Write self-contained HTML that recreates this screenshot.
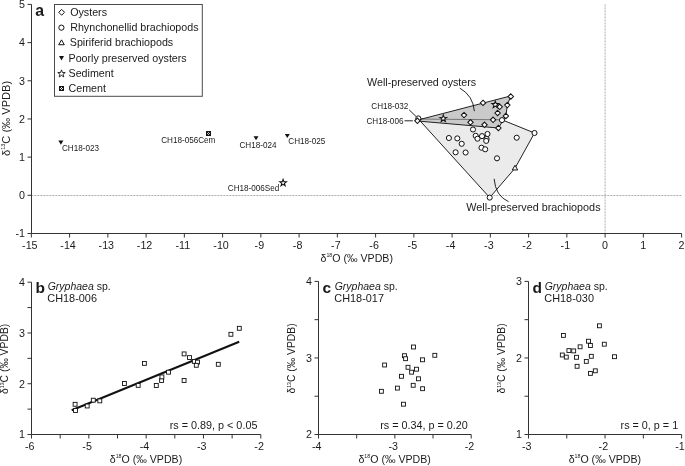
<!DOCTYPE html>
<html><head><meta charset="utf-8"><style>
html,body{margin:0;padding:0;background:#fff;}
svg{display:block;will-change:transform;}
</style></head><body>
<svg width="685" height="466" viewBox="0 0 685 466" font-family="'Liberation Sans', sans-serif">
<rect width="685" height="466" fill="#fff"/>
<line x1="31.35" y1="195.5" x2="681.6" y2="195.5" stroke="#999" stroke-width="0.8" stroke-dasharray="2,1"/>
<line x1="605.1" y1="4.42" x2="605.1" y2="233.5" stroke="#999" stroke-width="0.8" stroke-dasharray="2,1"/>
<path d="M418.4,119L502,119.8L534.5,133L515,168.2L489.7,197.6Z" fill="#ebebeb" stroke="#222" stroke-width="1"/>
<path d="M417.2,120.2L510.8,95.9L507.3,105.1L505.9,116L498.4,128L417.4,121Z" fill="#cacaca" stroke="none"/>
<path d="M418.4,119L502,119.8" stroke="#6a6a6a" stroke-width="0.9"/>
<path d="M417.2,120.2L510.8,95.9L507.3,105.1L505.9,116L498.4,128L417.4,121Z" fill="none" stroke="#222" stroke-width="1"/>
<line x1="409.1" y1="109.8" x2="416.1" y2="116.5" stroke="#111" stroke-width="0.9" />
<line x1="404.5" y1="120.8" x2="412.9" y2="120.8" stroke="#111" stroke-width="0.9" />
<path d="M459.8,88.1Q473,95.5 474.4,111.2" fill="none" stroke="#111" stroke-width="0.9"/>
<path d="M494.1,178.8Q495.5,196 508.6,201.7" fill="none" stroke="#111" stroke-width="0.9"/>
<line x1="31.5" y1="4.42" x2="31.5" y2="233.5" stroke="#333" stroke-width="1" />
<line x1="31.5" y1="233.5" x2="681.6" y2="233.5" stroke="#333" stroke-width="1" />
<line x1="27.5" y1="233.5" x2="31.5" y2="233.5" stroke="#333" stroke-width="1" />
<text x="25" y="237.3" font-size="10.7" text-anchor="end" fill="#1a1a1a" >-1</text>
<line x1="27.5" y1="195.32" x2="31.5" y2="195.32" stroke="#333" stroke-width="1" />
<text x="25" y="199.12" font-size="10.7" text-anchor="end" fill="#1a1a1a" >0</text>
<line x1="27.5" y1="157.14" x2="31.5" y2="157.14" stroke="#333" stroke-width="1" />
<text x="25" y="160.94" font-size="10.7" text-anchor="end" fill="#1a1a1a" >1</text>
<line x1="27.5" y1="118.96" x2="31.5" y2="118.96" stroke="#333" stroke-width="1" />
<text x="25" y="122.76" font-size="10.7" text-anchor="end" fill="#1a1a1a" >2</text>
<line x1="27.5" y1="80.78" x2="31.5" y2="80.78" stroke="#333" stroke-width="1" />
<text x="25" y="84.58" font-size="10.7" text-anchor="end" fill="#1a1a1a" >3</text>
<line x1="27.5" y1="42.6" x2="31.5" y2="42.6" stroke="#333" stroke-width="1" />
<text x="25" y="46.4" font-size="10.7" text-anchor="end" fill="#1a1a1a" >4</text>
<line x1="27.5" y1="4.42" x2="31.5" y2="4.42" stroke="#333" stroke-width="1" />
<text x="25" y="7.52" font-size="10.7" text-anchor="end" fill="#1a1a1a" >5</text>
<line x1="31.35" y1="233.5" x2="31.35" y2="237.5" stroke="#333" stroke-width="1" />
<text x="29.85" y="248.6" font-size="10.7" text-anchor="middle" fill="#1a1a1a" >-15</text>
<line x1="69.6" y1="233.5" x2="69.6" y2="237.5" stroke="#333" stroke-width="1" />
<text x="68.1" y="248.6" font-size="10.7" text-anchor="middle" fill="#1a1a1a" >-14</text>
<line x1="107.85" y1="233.5" x2="107.85" y2="237.5" stroke="#333" stroke-width="1" />
<text x="106.35" y="248.6" font-size="10.7" text-anchor="middle" fill="#1a1a1a" >-13</text>
<line x1="146.1" y1="233.5" x2="146.1" y2="237.5" stroke="#333" stroke-width="1" />
<text x="144.6" y="248.6" font-size="10.7" text-anchor="middle" fill="#1a1a1a" >-12</text>
<line x1="184.35" y1="233.5" x2="184.35" y2="237.5" stroke="#333" stroke-width="1" />
<text x="182.85" y="248.6" font-size="10.7" text-anchor="middle" fill="#1a1a1a" >-11</text>
<line x1="222.6" y1="233.5" x2="222.6" y2="237.5" stroke="#333" stroke-width="1" />
<text x="221.1" y="248.6" font-size="10.7" text-anchor="middle" fill="#1a1a1a" >-10</text>
<line x1="260.85" y1="233.5" x2="260.85" y2="237.5" stroke="#333" stroke-width="1" />
<text x="259.35" y="248.6" font-size="10.7" text-anchor="middle" fill="#1a1a1a" >-9</text>
<line x1="299.1" y1="233.5" x2="299.1" y2="237.5" stroke="#333" stroke-width="1" />
<text x="297.6" y="248.6" font-size="10.7" text-anchor="middle" fill="#1a1a1a" >-8</text>
<line x1="337.35" y1="233.5" x2="337.35" y2="237.5" stroke="#333" stroke-width="1" />
<text x="335.85" y="248.6" font-size="10.7" text-anchor="middle" fill="#1a1a1a" >-7</text>
<line x1="375.6" y1="233.5" x2="375.6" y2="237.5" stroke="#333" stroke-width="1" />
<text x="374.1" y="248.6" font-size="10.7" text-anchor="middle" fill="#1a1a1a" >-6</text>
<line x1="413.85" y1="233.5" x2="413.85" y2="237.5" stroke="#333" stroke-width="1" />
<text x="412.35" y="248.6" font-size="10.7" text-anchor="middle" fill="#1a1a1a" >-5</text>
<line x1="452.1" y1="233.5" x2="452.1" y2="237.5" stroke="#333" stroke-width="1" />
<text x="450.6" y="248.6" font-size="10.7" text-anchor="middle" fill="#1a1a1a" >-4</text>
<line x1="490.35" y1="233.5" x2="490.35" y2="237.5" stroke="#333" stroke-width="1" />
<text x="488.85" y="248.6" font-size="10.7" text-anchor="middle" fill="#1a1a1a" >-3</text>
<line x1="528.6" y1="233.5" x2="528.6" y2="237.5" stroke="#333" stroke-width="1" />
<text x="527.1" y="248.6" font-size="10.7" text-anchor="middle" fill="#1a1a1a" >-2</text>
<line x1="566.85" y1="233.5" x2="566.85" y2="237.5" stroke="#333" stroke-width="1" />
<text x="565.35" y="248.6" font-size="10.7" text-anchor="middle" fill="#1a1a1a" >-1</text>
<line x1="605.1" y1="233.5" x2="605.1" y2="237.5" stroke="#333" stroke-width="1" />
<text x="605.1" y="248.6" font-size="10.7" text-anchor="middle" fill="#1a1a1a" >0</text>
<line x1="643.35" y1="233.5" x2="643.35" y2="237.5" stroke="#333" stroke-width="1" />
<text x="643.35" y="248.6" font-size="10.7" text-anchor="middle" fill="#1a1a1a" >1</text>
<line x1="681.6" y1="233.5" x2="681.6" y2="237.5" stroke="#333" stroke-width="1" />
<text x="681.6" y="248.6" font-size="10.7" text-anchor="middle" fill="#1a1a1a" >2</text>
<text x="356.7" y="262.1" font-size="10.6" text-anchor="middle" fill="#1a1a1a">δ<tspan font-size="5.3" dy="-5">18</tspan><tspan dy="5">O (‰ VPDB)</tspan></text>
<text x="10.2" y="118.4" font-size="11.1" text-anchor="middle" fill="#1a1a1a" transform="rotate(-90 10.2 118.4)">δ<tspan font-size="5.5" dy="-5.2">13</tspan><tspan dy="5.2">C (‰ VPDB)</tspan></text>
<text x="35.2" y="15.7" font-size="15.8" text-anchor="start" fill="#1a1a1a" font-weight="bold">a</text>
<rect x="54.5" y="4.5" width="147.8" height="91.8" fill="#fff" stroke="#4a4a4a" stroke-width="1"/>
<path d="M61.65,9.4L64.55,12.3L61.65,15.2L58.75,12.3Z" fill="#fff" stroke="#111" stroke-width="1"/>
<circle cx="61.4" cy="27.65" r="2.6" fill="#fff" stroke="#111" stroke-width="1"/>
<path d="M61.5,39.87L64.3,44.72L58.7,44.72Z" fill="#fff" stroke="#111" stroke-width="1"/>
<path d="M59,56L64,56L61.5,60.6Z" fill="#111"/>
<path d="M61.5,69.9L62.44,72.51L65.21,72.59L63.02,74.29L63.79,76.96L61.5,75.4L59.21,76.96L59.98,74.29L57.79,72.59L60.56,72.51Z" fill="#fff" stroke="#111" stroke-width="0.9"/>
<rect x="59" y="86" width="5" height="5" fill="#151515" shape-rendering="crispEdges"/>
<rect x="61" y="87" width="1" height="1" fill="#eee" shape-rendering="crispEdges"/>
<rect x="60" y="88" width="1" height="1" fill="#eee" shape-rendering="crispEdges"/>
<rect x="62" y="88" width="1" height="1" fill="#eee" shape-rendering="crispEdges"/>
<rect x="61" y="89" width="1" height="1" fill="#eee" shape-rendering="crispEdges"/>
<text x="70.2" y="15.8" font-size="10.7" text-anchor="start" fill="#1a1a1a" >Oysters</text>
<text x="70.2" y="31.13" font-size="10.7" text-anchor="start" fill="#1a1a1a" >Rhynchonellid brachiopods</text>
<text x="69.8" y="46.46" font-size="10.7" text-anchor="start" fill="#1a1a1a" >Spiriferid brachiopods</text>
<text x="68.5" y="61.79" font-size="10.7" text-anchor="start" fill="#1a1a1a" >Poorly preserved oysters</text>
<text x="68.5" y="77.12" font-size="10.7" text-anchor="start" fill="#1a1a1a" >Sediment</text>
<text x="68.5" y="92.45" font-size="10.7" text-anchor="start" fill="#1a1a1a" >Cement</text>
<text x="62" y="150.9" font-size="8.15" text-anchor="start" fill="#1a1a1a" >CH18-023</text>
<text x="161.2" y="143" font-size="8.15" text-anchor="start" fill="#1a1a1a" >CH18-056Cem</text>
<text x="239.5" y="148.1" font-size="8.15" text-anchor="start" fill="#1a1a1a" >CH18-024</text>
<text x="288.3" y="144" font-size="8.15" text-anchor="start" fill="#1a1a1a" >CH18-025</text>
<text x="227.8" y="191" font-size="8.15" text-anchor="start" fill="#1a1a1a" >CH18-006Sed</text>
<text x="371.3" y="108.9" font-size="8.15" text-anchor="start" fill="#1a1a1a" >CH18-032</text>
<text x="366.4" y="123.5" font-size="8.15" text-anchor="start" fill="#1a1a1a" >CH18-006</text>
<text x="367.1" y="85.6" font-size="10.7" text-anchor="start" fill="#1a1a1a" >Well-preserved oysters</text>
<text x="466.3" y="211.2" font-size="10.8" text-anchor="start" fill="#1a1a1a" >Well-preserved brachiopods</text>
<path d="M58.4,140.5L63.4,140.5L60.9,144.7Z" fill="#111"/>
<path d="M253.5,136.2L258.5,136.2L256,140.2Z" fill="#111"/>
<path d="M284.8,134L289.8,134L287.3,138Z" fill="#111"/>
<rect x="206" y="131" width="5" height="5" fill="#151515" shape-rendering="crispEdges"/>
<rect x="208" y="132" width="1" height="1" fill="#bbb" shape-rendering="crispEdges"/>
<rect x="207" y="133" width="1" height="1" fill="#bbb" shape-rendering="crispEdges"/>
<rect x="209" y="133" width="1" height="1" fill="#bbb" shape-rendering="crispEdges"/>
<rect x="208" y="134" width="1" height="1" fill="#bbb" shape-rendering="crispEdges"/>
<path d="M283.1,179.4L283.92,181.77L286.43,181.82L284.43,183.33L285.16,185.73L283.1,184.3L281.04,185.73L281.77,183.33L279.77,181.82L282.28,181.77Z" fill="#fff" stroke="#111" stroke-width="1.05"/>
<circle cx="418.3" cy="118.4" r="2.55" fill="#fff" stroke="#111" stroke-width="1.0"/>
<circle cx="502" cy="120.1" r="2.55" fill="#fff" stroke="#111" stroke-width="1.0"/>
<circle cx="534.5" cy="133" r="2.55" fill="#fff" stroke="#111" stroke-width="1.0"/>
<circle cx="489.7" cy="197.6" r="2.55" fill="#fff" stroke="#111" stroke-width="1.0"/>
<circle cx="473" cy="129.5" r="2.55" fill="#fff" stroke="#111" stroke-width="1.0"/>
<circle cx="448.9" cy="138" r="2.55" fill="#fff" stroke="#111" stroke-width="1.0"/>
<circle cx="457.3" cy="138.4" r="2.55" fill="#fff" stroke="#111" stroke-width="1.0"/>
<circle cx="461.7" cy="143.8" r="2.55" fill="#fff" stroke="#111" stroke-width="1.0"/>
<circle cx="455.6" cy="152.3" r="2.55" fill="#fff" stroke="#111" stroke-width="1.0"/>
<circle cx="465.6" cy="152.5" r="2.55" fill="#fff" stroke="#111" stroke-width="1.0"/>
<circle cx="475.7" cy="135.8" r="2.55" fill="#fff" stroke="#111" stroke-width="1.0"/>
<circle cx="477.5" cy="138.7" r="2.55" fill="#fff" stroke="#111" stroke-width="1.0"/>
<circle cx="482" cy="136.1" r="2.55" fill="#fff" stroke="#111" stroke-width="1.0"/>
<circle cx="487.5" cy="134" r="2.55" fill="#fff" stroke="#111" stroke-width="1.0"/>
<circle cx="486.6" cy="139" r="2.55" fill="#fff" stroke="#111" stroke-width="1.0"/>
<circle cx="486.2" cy="140.9" r="2.55" fill="#fff" stroke="#111" stroke-width="1.0"/>
<circle cx="481.5" cy="147.7" r="2.55" fill="#fff" stroke="#111" stroke-width="1.0"/>
<circle cx="485.2" cy="149.3" r="2.55" fill="#fff" stroke="#111" stroke-width="1.0"/>
<circle cx="497" cy="158.3" r="2.55" fill="#fff" stroke="#111" stroke-width="1.0"/>
<circle cx="516.7" cy="137.7" r="2.55" fill="#fff" stroke="#111" stroke-width="1.0"/>
<path d="M417.4,118.1L420.1,120.8L417.4,123.5L414.7,120.8Z" fill="#fff" stroke="#111" stroke-width="1.05"/>
<path d="M464,112.4L466.7,115.1L464,117.8L461.3,115.1Z" fill="#fff" stroke="#111" stroke-width="1.05"/>
<path d="M470.5,119.6L473.2,122.3L470.5,125L467.8,122.3Z" fill="#fff" stroke="#111" stroke-width="1.05"/>
<path d="M483,100.2L485.7,102.9L483,105.6L480.3,102.9Z" fill="#fff" stroke="#111" stroke-width="1.05"/>
<path d="M484.5,122.1L487.2,124.8L484.5,127.5L481.8,124.8Z" fill="#fff" stroke="#111" stroke-width="1.05"/>
<path d="M493.1,117.1L495.8,119.8L493.1,122.5L490.4,119.8Z" fill="#fff" stroke="#111" stroke-width="1.05"/>
<path d="M497.6,110.3L500.3,113L497.6,115.7L494.9,113Z" fill="#fff" stroke="#111" stroke-width="1.05"/>
<path d="M499.7,104.1L502.4,106.8L499.7,109.5L497,106.8Z" fill="#fff" stroke="#111" stroke-width="1.05"/>
<path d="M507.3,102.4L510,105.1L507.3,107.8L504.6,105.1Z" fill="#fff" stroke="#111" stroke-width="1.05"/>
<path d="M505.9,113.3L508.6,116L505.9,118.7L503.2,116Z" fill="#fff" stroke="#111" stroke-width="1.05"/>
<path d="M498.4,125.3L501.1,128L498.4,130.7L495.7,128Z" fill="#fff" stroke="#111" stroke-width="1.05"/>
<path d="M510.8,93.8L513.5,96.5L510.8,99.2L508.1,96.5Z" fill="#fff" stroke="#111" stroke-width="1.05"/>
<path d="M515,165.28L517.7,169.96L512.3,169.96Z" fill="#fff" stroke="#111" stroke-width="1.0"/>
<path d="M443.3,114.9L444.15,117.33L446.72,117.39L444.68,118.95L445.42,121.41L443.3,119.95L441.18,121.41L441.92,118.95L439.88,117.39L442.45,117.33Z" fill="#fff" stroke="#111" stroke-width="1.05"/>
<path d="M495.3,101.1L496.15,103.53L498.72,103.59L496.68,105.15L497.42,107.61L495.3,106.15L493.18,107.61L493.92,105.15L491.88,103.59L494.45,103.53Z" fill="#fff" stroke="#111" stroke-width="1.05"/>
<line x1="31.5" y1="282.2" x2="31.5" y2="434.5" stroke="#333" stroke-width="1" />
<line x1="31.5" y1="434.5" x2="260.8" y2="434.5" stroke="#333" stroke-width="1" />
<line x1="27.5" y1="434.5" x2="31.5" y2="434.5" stroke="#333" stroke-width="1" />
<text x="25" y="438.3" font-size="10.7" text-anchor="end" fill="#1a1a1a" >1</text>
<line x1="27.5" y1="409.12" x2="31.5" y2="409.12" stroke="#333" stroke-width="1" />
<line x1="27.5" y1="383.73" x2="31.5" y2="383.73" stroke="#333" stroke-width="1" />
<text x="25" y="387.53" font-size="10.7" text-anchor="end" fill="#1a1a1a" >2</text>
<line x1="27.5" y1="358.35" x2="31.5" y2="358.35" stroke="#333" stroke-width="1" />
<line x1="27.5" y1="332.97" x2="31.5" y2="332.97" stroke="#333" stroke-width="1" />
<text x="25" y="336.77" font-size="10.7" text-anchor="end" fill="#1a1a1a" >3</text>
<line x1="27.5" y1="307.58" x2="31.5" y2="307.58" stroke="#333" stroke-width="1" />
<line x1="27.5" y1="282.2" x2="31.5" y2="282.2" stroke="#333" stroke-width="1" />
<text x="25" y="286" font-size="10.7" text-anchor="end" fill="#1a1a1a" >4</text>
<line x1="31.5" y1="434.5" x2="31.5" y2="438.5" stroke="#333" stroke-width="1" />
<text x="29.8" y="449.9" font-size="10.7" text-anchor="middle" fill="#1a1a1a" >-6</text>
<line x1="60.16" y1="434.5" x2="60.16" y2="438.5" stroke="#333" stroke-width="1" />
<line x1="88.83" y1="434.5" x2="88.83" y2="438.5" stroke="#333" stroke-width="1" />
<text x="87.12" y="449.9" font-size="10.7" text-anchor="middle" fill="#1a1a1a" >-5</text>
<line x1="117.49" y1="434.5" x2="117.49" y2="438.5" stroke="#333" stroke-width="1" />
<line x1="146.15" y1="434.5" x2="146.15" y2="438.5" stroke="#333" stroke-width="1" />
<text x="144.45" y="449.9" font-size="10.7" text-anchor="middle" fill="#1a1a1a" >-4</text>
<line x1="174.81" y1="434.5" x2="174.81" y2="438.5" stroke="#333" stroke-width="1" />
<line x1="203.48" y1="434.5" x2="203.48" y2="438.5" stroke="#333" stroke-width="1" />
<text x="201.78" y="449.9" font-size="10.7" text-anchor="middle" fill="#1a1a1a" >-3</text>
<line x1="232.14" y1="434.5" x2="232.14" y2="438.5" stroke="#333" stroke-width="1" />
<line x1="260.8" y1="434.5" x2="260.8" y2="438.5" stroke="#333" stroke-width="1" />
<text x="259.1" y="449.9" font-size="10.7" text-anchor="middle" fill="#1a1a1a" >-2</text>
<text x="145.95" y="463.1" font-size="10.6" text-anchor="middle" fill="#1a1a1a">δ<tspan font-size="5.3" dy="-5">18</tspan><tspan dy="5">O (‰ VPDB)</tspan></text>
<text x="8.5" y="358.85" font-size="10.35" text-anchor="middle" fill="#1a1a1a" transform="rotate(-90 8.5 358.85)">δ<tspan font-size="5.2" dy="-4.8">13</tspan><tspan dy="4.8">C (‰ VPDB)</tspan></text>
<text x="35.4" y="293.4" font-size="15.5" text-anchor="start" fill="#1a1a1a" font-weight="bold">b</text>
<text x="47.7" y="289.7" font-size="10.5" fill="#1a1a1a"><tspan font-style="italic">Gryphaea</tspan> sp.</text>
<text x="47.3" y="301.7" font-size="10.9" text-anchor="start" fill="#1a1a1a" >CH18-006</text>
<text x="257.4" y="428.9" font-size="10.8" text-anchor="end" fill="#1a1a1a" >rs = 0.89, p &lt; 0.05</text>
<line x1="71.7" y1="410.3" x2="239.2" y2="341.8" stroke="#111" stroke-width="2" />
<rect x="73.15" y="402.35" width="3.9" height="3.9" fill="#fff" stroke="#111" stroke-width="0.9"/>
<rect x="73.55" y="408.55" width="3.9" height="3.9" fill="#fff" stroke="#111" stroke-width="0.9"/>
<rect x="85.25" y="404.05" width="3.9" height="3.9" fill="#fff" stroke="#111" stroke-width="0.9"/>
<rect x="91.35" y="398.25" width="3.9" height="3.9" fill="#fff" stroke="#111" stroke-width="0.9"/>
<rect x="97.85" y="398.95" width="3.9" height="3.9" fill="#fff" stroke="#111" stroke-width="0.9"/>
<rect x="122.45" y="381.55" width="3.9" height="3.9" fill="#fff" stroke="#111" stroke-width="0.9"/>
<rect x="136.25" y="383.45" width="3.9" height="3.9" fill="#fff" stroke="#111" stroke-width="0.9"/>
<rect x="142.45" y="361.45" width="3.9" height="3.9" fill="#fff" stroke="#111" stroke-width="0.9"/>
<rect x="154.35" y="383.55" width="3.9" height="3.9" fill="#fff" stroke="#111" stroke-width="0.9"/>
<rect x="159.65" y="378.65" width="3.9" height="3.9" fill="#fff" stroke="#111" stroke-width="0.9"/>
<rect x="159.95" y="374.95" width="3.9" height="3.9" fill="#fff" stroke="#111" stroke-width="0.9"/>
<rect x="166.55" y="370.25" width="3.9" height="3.9" fill="#fff" stroke="#111" stroke-width="0.9"/>
<rect x="182.15" y="378.55" width="3.9" height="3.9" fill="#fff" stroke="#111" stroke-width="0.9"/>
<rect x="182.15" y="351.95" width="3.9" height="3.9" fill="#fff" stroke="#111" stroke-width="0.9"/>
<rect x="187.55" y="355.65" width="3.9" height="3.9" fill="#fff" stroke="#111" stroke-width="0.9"/>
<rect x="192.35" y="359.45" width="3.9" height="3.9" fill="#fff" stroke="#111" stroke-width="0.9"/>
<rect x="195.55" y="360.15" width="3.9" height="3.9" fill="#fff" stroke="#111" stroke-width="0.9"/>
<rect x="194.35" y="363.35" width="3.9" height="3.9" fill="#fff" stroke="#111" stroke-width="0.9"/>
<rect x="216.35" y="362.35" width="3.9" height="3.9" fill="#fff" stroke="#111" stroke-width="0.9"/>
<rect x="228.95" y="332.35" width="3.9" height="3.9" fill="#fff" stroke="#111" stroke-width="0.9"/>
<rect x="237.35" y="326.35" width="3.9" height="3.9" fill="#fff" stroke="#111" stroke-width="0.9"/>
<line x1="318.5" y1="281.4" x2="318.5" y2="434.5" stroke="#333" stroke-width="1" />
<line x1="318.5" y1="434.5" x2="471.2" y2="434.5" stroke="#333" stroke-width="1" />
<line x1="314.5" y1="434.5" x2="318.5" y2="434.5" stroke="#333" stroke-width="1" />
<text x="312" y="438.3" font-size="10.7" text-anchor="end" fill="#1a1a1a" >2</text>
<line x1="314.5" y1="396.23" x2="318.5" y2="396.23" stroke="#333" stroke-width="1" />
<line x1="314.5" y1="357.95" x2="318.5" y2="357.95" stroke="#333" stroke-width="1" />
<text x="312" y="361.75" font-size="10.7" text-anchor="end" fill="#1a1a1a" >3</text>
<line x1="314.5" y1="319.67" x2="318.5" y2="319.67" stroke="#333" stroke-width="1" />
<line x1="314.5" y1="281.4" x2="318.5" y2="281.4" stroke="#333" stroke-width="1" />
<text x="312" y="285.2" font-size="10.7" text-anchor="end" fill="#1a1a1a" >4</text>
<line x1="318.5" y1="434.5" x2="318.5" y2="438.5" stroke="#333" stroke-width="1" />
<text x="316.8" y="449.9" font-size="10.7" text-anchor="middle" fill="#1a1a1a" >-4</text>
<line x1="356.68" y1="434.5" x2="356.68" y2="438.5" stroke="#333" stroke-width="1" />
<line x1="394.85" y1="434.5" x2="394.85" y2="438.5" stroke="#333" stroke-width="1" />
<text x="393.15" y="449.9" font-size="10.7" text-anchor="middle" fill="#1a1a1a" >-3</text>
<line x1="433.02" y1="434.5" x2="433.02" y2="438.5" stroke="#333" stroke-width="1" />
<line x1="471.2" y1="434.5" x2="471.2" y2="438.5" stroke="#333" stroke-width="1" />
<text x="469.5" y="449.9" font-size="10.7" text-anchor="middle" fill="#1a1a1a" >-2</text>
<text x="394.65" y="463.1" font-size="10.6" text-anchor="middle" fill="#1a1a1a">δ<tspan font-size="5.3" dy="-5">18</tspan><tspan dy="5">O (‰ VPDB)</tspan></text>
<text x="295.5" y="358.45" font-size="10.35" text-anchor="middle" fill="#1a1a1a" transform="rotate(-90 295.5 358.45)">δ<tspan font-size="5.2" dy="-4.8">13</tspan><tspan dy="4.8">C (‰ VPDB)</tspan></text>
<text x="322.4" y="293.4" font-size="15.5" text-anchor="start" fill="#1a1a1a" font-weight="bold">c</text>
<text x="334.7" y="289.7" font-size="10.5" fill="#1a1a1a"><tspan font-style="italic">Gryphaea</tspan> sp.</text>
<text x="334.3" y="301.7" font-size="10.9" text-anchor="start" fill="#1a1a1a" >CH18-017</text>
<text x="467.8" y="428.9" font-size="10.8" text-anchor="end" fill="#1a1a1a" >rs = 0.34, p = 0.20</text>
<rect x="411.55" y="345.05" width="3.9" height="3.9" fill="#fff" stroke="#111" stroke-width="0.9"/>
<rect x="402.55" y="353.75" width="3.9" height="3.9" fill="#fff" stroke="#111" stroke-width="0.9"/>
<rect x="403.65" y="356.75" width="3.9" height="3.9" fill="#fff" stroke="#111" stroke-width="0.9"/>
<rect x="432.85" y="353.35" width="3.9" height="3.9" fill="#fff" stroke="#111" stroke-width="0.9"/>
<rect x="420.55" y="357.85" width="3.9" height="3.9" fill="#fff" stroke="#111" stroke-width="0.9"/>
<rect x="382.65" y="363.05" width="3.9" height="3.9" fill="#fff" stroke="#111" stroke-width="0.9"/>
<rect x="406.05" y="365.35" width="3.9" height="3.9" fill="#fff" stroke="#111" stroke-width="0.9"/>
<rect x="414.55" y="367.25" width="3.9" height="3.9" fill="#fff" stroke="#111" stroke-width="0.9"/>
<rect x="409.65" y="370.25" width="3.9" height="3.9" fill="#fff" stroke="#111" stroke-width="0.9"/>
<rect x="399.55" y="374.35" width="3.9" height="3.9" fill="#fff" stroke="#111" stroke-width="0.9"/>
<rect x="416.55" y="376.85" width="3.9" height="3.9" fill="#fff" stroke="#111" stroke-width="0.9"/>
<rect x="411.25" y="383.35" width="3.9" height="3.9" fill="#fff" stroke="#111" stroke-width="0.9"/>
<rect x="420.65" y="386.75" width="3.9" height="3.9" fill="#fff" stroke="#111" stroke-width="0.9"/>
<rect x="395.45" y="386.15" width="3.9" height="3.9" fill="#fff" stroke="#111" stroke-width="0.9"/>
<rect x="379.45" y="389.35" width="3.9" height="3.9" fill="#fff" stroke="#111" stroke-width="0.9"/>
<rect x="401.55" y="402.25" width="3.9" height="3.9" fill="#fff" stroke="#111" stroke-width="0.9"/>
<line x1="528.5" y1="281.4" x2="528.5" y2="434.5" stroke="#333" stroke-width="1" />
<line x1="528.5" y1="434.5" x2="681.6" y2="434.5" stroke="#333" stroke-width="1" />
<line x1="524.5" y1="434.5" x2="528.5" y2="434.5" stroke="#333" stroke-width="1" />
<text x="522" y="438.3" font-size="10.7" text-anchor="end" fill="#1a1a1a" >1</text>
<line x1="524.5" y1="396.23" x2="528.5" y2="396.23" stroke="#333" stroke-width="1" />
<line x1="524.5" y1="357.95" x2="528.5" y2="357.95" stroke="#333" stroke-width="1" />
<text x="522" y="361.75" font-size="10.7" text-anchor="end" fill="#1a1a1a" >2</text>
<line x1="524.5" y1="319.67" x2="528.5" y2="319.67" stroke="#333" stroke-width="1" />
<line x1="524.5" y1="281.4" x2="528.5" y2="281.4" stroke="#333" stroke-width="1" />
<text x="522" y="285.2" font-size="10.7" text-anchor="end" fill="#1a1a1a" >3</text>
<line x1="528.5" y1="434.5" x2="528.5" y2="438.5" stroke="#333" stroke-width="1" />
<text x="526.8" y="449.9" font-size="10.7" text-anchor="middle" fill="#1a1a1a" >-3</text>
<line x1="566.77" y1="434.5" x2="566.77" y2="438.5" stroke="#333" stroke-width="1" />
<line x1="605.05" y1="434.5" x2="605.05" y2="438.5" stroke="#333" stroke-width="1" />
<text x="603.35" y="449.9" font-size="10.7" text-anchor="middle" fill="#1a1a1a" >-2</text>
<line x1="643.33" y1="434.5" x2="643.33" y2="438.5" stroke="#333" stroke-width="1" />
<line x1="681.6" y1="434.5" x2="681.6" y2="438.5" stroke="#333" stroke-width="1" />
<text x="679.9" y="449.9" font-size="10.7" text-anchor="middle" fill="#1a1a1a" >-1</text>
<text x="604.85" y="463.1" font-size="10.6" text-anchor="middle" fill="#1a1a1a">δ<tspan font-size="5.3" dy="-5">18</tspan><tspan dy="5">O (‰ VPDB)</tspan></text>
<text x="505.5" y="358.45" font-size="10.35" text-anchor="middle" fill="#1a1a1a" transform="rotate(-90 505.5 358.45)">δ<tspan font-size="5.2" dy="-4.8">13</tspan><tspan dy="4.8">C (‰ VPDB)</tspan></text>
<text x="532.4" y="293.4" font-size="15.5" text-anchor="start" fill="#1a1a1a" font-weight="bold">d</text>
<text x="544.7" y="289.7" font-size="10.5" fill="#1a1a1a"><tspan font-style="italic">Gryphaea</tspan> sp.</text>
<text x="544.3" y="301.7" font-size="10.9" text-anchor="start" fill="#1a1a1a" >CH18-030</text>
<text x="678.2" y="428.9" font-size="10.8" text-anchor="end" fill="#1a1a1a" >rs = 0, p = 1</text>
<rect x="597.45" y="323.85" width="3.9" height="3.9" fill="#fff" stroke="#111" stroke-width="0.9"/>
<rect x="561.45" y="333.45" width="3.9" height="3.9" fill="#fff" stroke="#111" stroke-width="0.9"/>
<rect x="586.55" y="339.25" width="3.9" height="3.9" fill="#fff" stroke="#111" stroke-width="0.9"/>
<rect x="588.45" y="343.55" width="3.9" height="3.9" fill="#fff" stroke="#111" stroke-width="0.9"/>
<rect x="602.35" y="342.25" width="3.9" height="3.9" fill="#fff" stroke="#111" stroke-width="0.9"/>
<rect x="578.15" y="344.85" width="3.9" height="3.9" fill="#fff" stroke="#111" stroke-width="0.9"/>
<rect x="566.95" y="348.65" width="3.9" height="3.9" fill="#fff" stroke="#111" stroke-width="0.9"/>
<rect x="571.75" y="348.95" width="3.9" height="3.9" fill="#fff" stroke="#111" stroke-width="0.9"/>
<rect x="560.35" y="353.05" width="3.9" height="3.9" fill="#fff" stroke="#111" stroke-width="0.9"/>
<rect x="564.35" y="355.15" width="3.9" height="3.9" fill="#fff" stroke="#111" stroke-width="0.9"/>
<rect x="574.55" y="355.35" width="3.9" height="3.9" fill="#fff" stroke="#111" stroke-width="0.9"/>
<rect x="589.35" y="354.35" width="3.9" height="3.9" fill="#fff" stroke="#111" stroke-width="0.9"/>
<rect x="612.55" y="354.75" width="3.9" height="3.9" fill="#fff" stroke="#111" stroke-width="0.9"/>
<rect x="584.35" y="359.45" width="3.9" height="3.9" fill="#fff" stroke="#111" stroke-width="0.9"/>
<rect x="575.15" y="364.35" width="3.9" height="3.9" fill="#fff" stroke="#111" stroke-width="0.9"/>
<rect x="593.35" y="368.85" width="3.9" height="3.9" fill="#fff" stroke="#111" stroke-width="0.9"/>
<rect x="588.45" y="371.45" width="3.9" height="3.9" fill="#fff" stroke="#111" stroke-width="0.9"/>
</svg>
</body></html>
